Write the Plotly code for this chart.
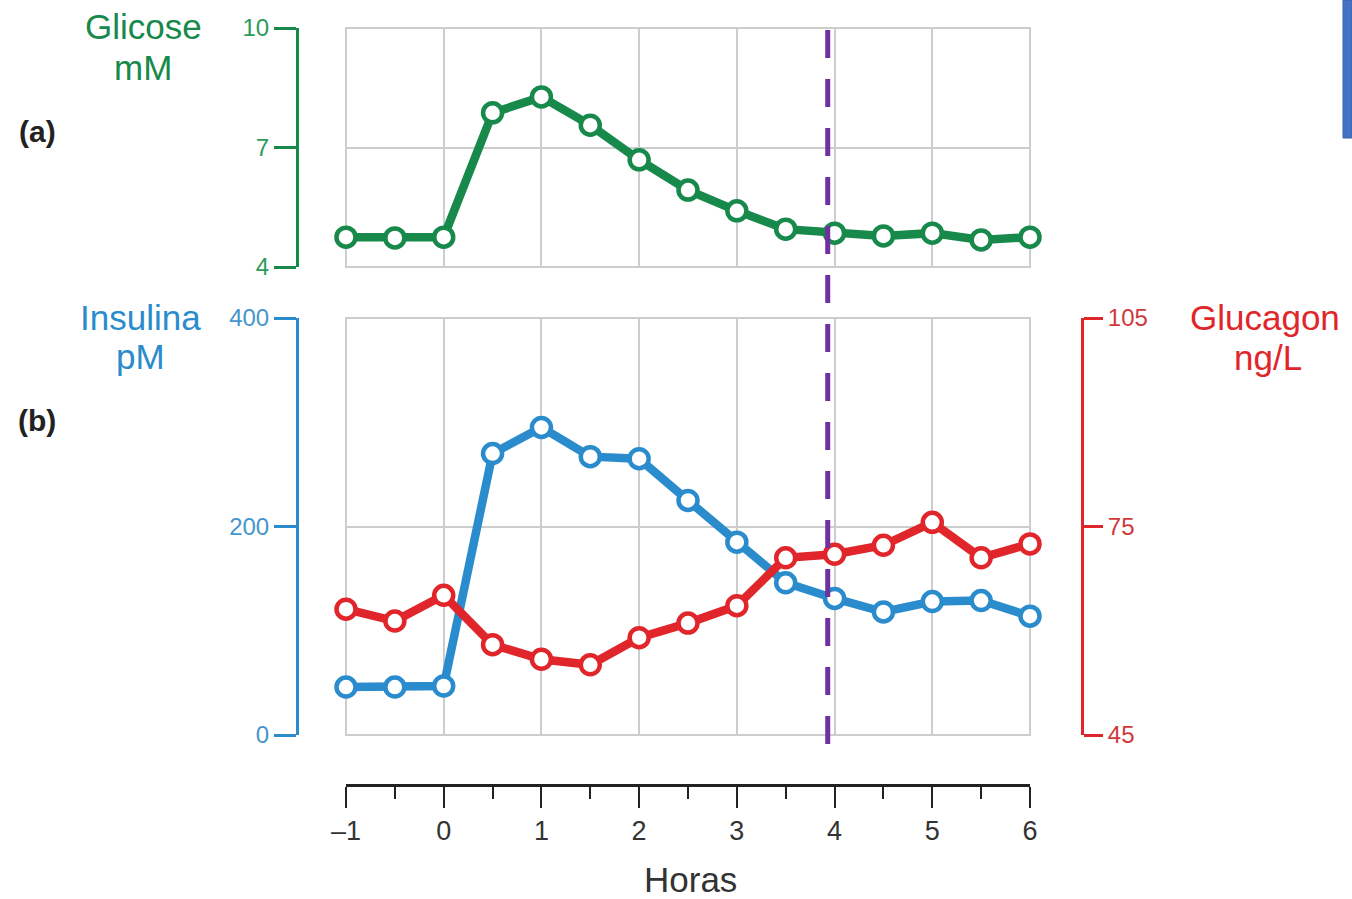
import plotly.graph_objects as go

# ---------------- data ----------------
horas = [-1, -0.5, 0, 0.5, 1, 1.5, 2, 2.5, 3, 3.5, 4, 4.5, 5, 5.5, 6]
glicose = [4.75, 4.73, 4.75, 7.87, 8.27, 7.56, 6.69, 5.93, 5.41, 4.95, 4.85, 4.78, 4.85, 4.68, 4.75]
insulina = [46, 46, 47, 270, 295, 267, 265, 225, 185, 146, 131, 118, 128, 129, 114]
glucagon = [63.1, 61.4, 65.1, 58.0, 55.9, 55.1, 59.0, 61.1, 63.6, 70.5, 71.0, 72.3, 75.6, 70.5, 72.5]
x_ticks = [-1, 0, 1, 2, 3, 4, 5, 6]
x_labels = ["–1", "0", "1", "2", "3", "4", "5", "6"]
glicose_ticks = [4, 7, 10]
insulina_ticks = [0, 200, 400]
glucagon_ticks = [45, 75, 105]
marca_x = 3.93

# ---------------- style ----------------
OFF = 0
W, H = 1352, 899
GREEN = "#17894a"
GREEN_T = "#2e9a5a"
BLUE = "#2a8ccc"
BLUE_T = "#4596cc"
RED = "#e1262b"
RED_T = "#d0393c"
PURPLE = "#7030a0"
GRID = "#cdcdcd"
FONT = "Liberation Sans, Arial, sans-serif"

def px(x):
    return (x - OFF) / W

def py(y):
    return 1 - (y - OFF) / H

x0p, x1p = 346, 1030
top_dom = [py(267), py(28)]
bot_dom = [py(735), py(318)]

fig = go.Figure()

mk = lambda c: dict(symbol="circle", size=19, color="white", line=dict(color=c, width=4.5))

fig.add_trace(go.Scatter(x=horas, y=glicose, mode="lines+markers", xaxis="x", yaxis="y",
                         line=dict(color=GREEN, width=8.5), marker=mk(GREEN), cliponaxis=False,
                         showlegend=False, name="Glicose"))
fig.add_trace(go.Scatter(x=horas, y=insulina, mode="lines+markers", xaxis="x2", yaxis="y2",
                         line=dict(color=BLUE, width=8.5), marker=mk(BLUE), cliponaxis=False,
                         showlegend=False, name="Insulina"))
fig.add_trace(go.Scatter(x=horas, y=glucagon, mode="lines+markers", xaxis="x2", yaxis="y3",
                         line=dict(color=RED, width=8.5), marker=mk(RED), cliponaxis=False,
                         showlegend=False, name="Glucagon"))

fig.update_layout(
    width=W, height=H, autosize=False, margin=dict(l=0, r=0, t=0, b=0, pad=0),
    paper_bgcolor="white", plot_bgcolor="white", showlegend=False,
    font=dict(family=FONT),
    xaxis=dict(domain=[px(x0p), px(x1p)], range=[-1, 6], anchor="y", automargin=False,
               tickvals=x_ticks, showticklabels=False, ticks="",
               showgrid=True, gridcolor=GRID, gridwidth=2, zeroline=False, showline=False),
    yaxis=dict(domain=top_dom, range=[4, 10], anchor="free", position=px(297), automargin=False,
               tickvals=glicose_ticks, ticks="outside", ticklen=22, tickwidth=3, tickcolor=GREEN,
               showline=True, linecolor=GREEN, linewidth=3,
               tickfont=dict(size=24, color=GREEN_T, family=FONT),
               showgrid=True, gridcolor=GRID, gridwidth=2, zeroline=False),
    xaxis2=dict(domain=[px(x0p), px(x1p)], range=[-1, 6], anchor="free", position=py(785),
                automargin=False,
                tickvals=x_ticks, ticktext=x_labels, ticks="outside", ticklen=21, tickwidth=2,
                tickcolor="#222", showline=True, linecolor="#222", linewidth=3,
                tickfont=dict(size=27, color="#333", family=FONT),
                minor=dict(dtick=0.5, tick0=-1, ticks="outside", ticklen=12, tickwidth=2,
                           tickcolor="#222", showgrid=False),
                showgrid=True, gridcolor=GRID, gridwidth=2, zeroline=False),
    yaxis2=dict(domain=bot_dom, range=[0, 400], anchor="free", position=px(297), automargin=False,
                tickvals=insulina_ticks, ticks="outside", ticklen=22, tickwidth=3, tickcolor=BLUE,
                showline=True, linecolor=BLUE, linewidth=3,
                tickfont=dict(size=24, color=BLUE_T, family=FONT),
                showgrid=True, gridcolor=GRID, gridwidth=2, zeroline=False),
    yaxis3=dict(overlaying="y2", side="right", range=[45, 105], anchor="free", position=px(1082),
                automargin=False,
                tickvals=glucagon_ticks, ticks="outside", ticklen=19, tickwidth=3, tickcolor=RED,
                showline=True, linecolor=RED, linewidth=3,
                tickfont=dict(size=24, color=RED_T, family=FONT),
                showgrid=False, zeroline=False),
)

# panel frames
for (ya, yb) in [(28, 267), (318, 735)]:
    fig.add_shape(type="rect", xref="paper", yref="paper", x0=px(x0p), x1=px(x1p),
                  y0=py(yb), y1=py(ya), line=dict(color=GRID, width=2), layer="below")

# purple dashed marker line
fig.add_shape(type="line", xref="x", yref="paper", x0=marca_x, x1=marca_x,
              y0=py(744), y1=py(27), line=dict(color=PURPLE, width=5, dash="28px,21px"))

# blue bar at top-right edge
fig.add_shape(type="rect", xref="paper", yref="paper", x0=px(1343), x1=px(1352),
              y0=py(138), y1=py(0), fillcolor="#4472c4", line=dict(color="#3a62a8", width=1))

def ann(text, x, y, color, size, bold=False):
    fig.add_annotation(text=f"<b>{text}</b>" if bold else text, x=px(x), y=py(y),
                       xref="paper", yref="paper", showarrow=False,
                       xanchor="center", yanchor="middle",
                       font=dict(size=size, color=color, family=FONT))

ann("Glicose", 143, 27, GREEN, 35)
ann("mM", 143, 67, GREEN, 35)
ann("Insulina", 140, 317, BLUE, 35)
ann("pM", 140, 356, BLUE, 35)
ann("Glucagon", 1265, 317, RED, 35)
ann("ng/L", 1268, 357, RED, 35)
ann("(a)", 37, 131, "#222", 30, bold=True)
ann("(b)", 37, 420, "#222", 30, bold=True)
ann("Horas", 690, 879, "#333", 35)

fig.write_html(
    "out.html",
    config={"displayModeBar": False},
    post_script="document.body.style.margin='0';document.body.style.overflow='hidden';",
)
